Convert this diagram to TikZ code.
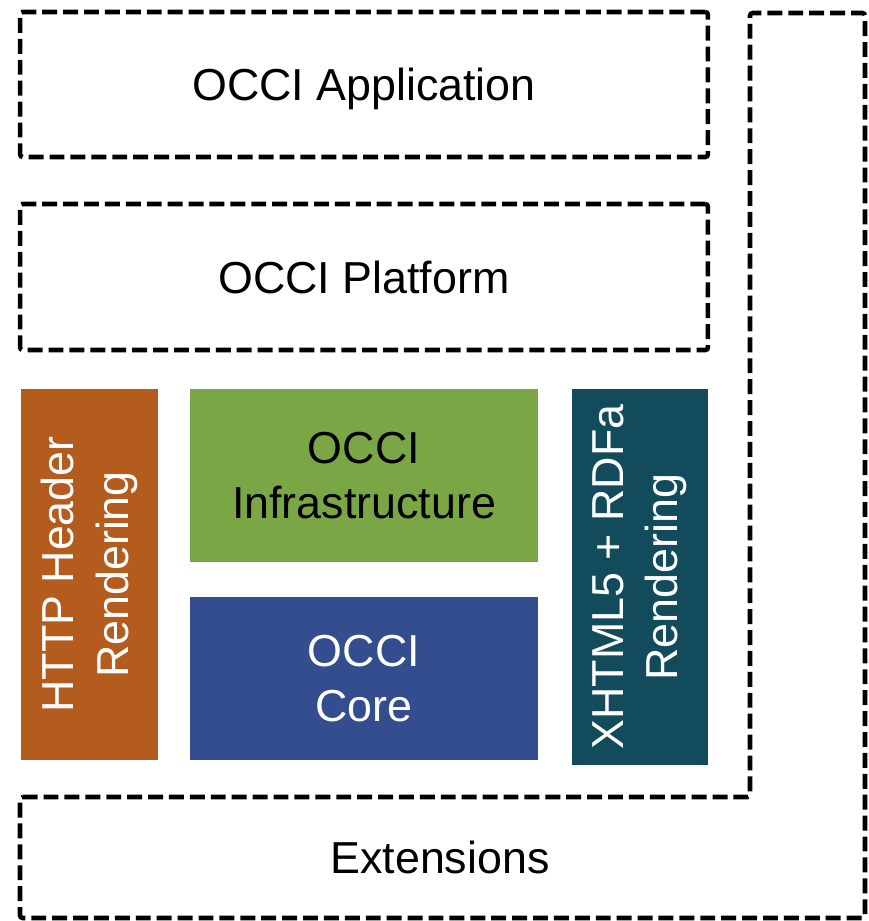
\documentclass[tikz,border=0pt]{standalone}
\usepackage{fontspec}
\setmainfont{Liberation Sans}
\usepackage{tikz}
\usetikzlibrary{positioning}
\definecolor{httporange}{HTML}{B35C1E}
\definecolor{infragreen}{HTML}{7BA645}
\definecolor{coreblue}{HTML}{334D8E}
\definecolor{xhtmlteal}{HTML}{124B5C}
\tikzset{layer/.style = {draw, line width=2.6pt, dash pattern=on 8.5pt off 3.4pt, rounded corners=1.5pt, inner sep=0pt, text depth=0pt, minimum width=13.76cm, font=\fontsize{25.5}{31}\selectfont},
         block/.style = {inner sep=0pt, align=center, font=\fontsize{25.5}{31}\selectfont}}

\begin{document}
\begin{tikzpicture}[x=0.02cm, y=-0.02cm]
                \useasboundingbox (0,0) rectangle (869,921);
                % upper layers
                \node[layer, minimum height=2.9cm]  (app)  at (364, 84.5) {OCCI Application};
                \node[layer, minimum height=2.92cm] (plat) at (364, 277)  {OCCI Platform};
                % renderings and core
                \node[block, fill=httporange, text=white, rotate=90, minimum width=7.42cm, minimum height=2.74cm] (http) at (89.5, 574.5) {HTTP Header\\Rendering};
                \node[block, fill=infragreen, minimum width=6.96cm, minimum height=3.46cm] (infra) at (364, 475.5) {OCCI\\Infrastructure};
                \node[block, fill=coreblue, text=white, minimum width=6.96cm, minimum height=3.26cm] (core) at (364, 678.5) {OCCI\\Core};
                \node[block, fill=xhtmlteal, text=white, rotate=90, minimum width=7.52cm, minimum height=2.72cm] (xhtml) at (640, 577) {XHTML5 + RDFa\\Rendering};
                % extensions
                \draw[line width=2.6pt, dash pattern=on 8.5pt off 3.4pt, rounded corners=1.5pt]
                    (20,797) -- (750,797) -- (750,13) -- (865,13) -- (865,918) -- (20,918) -- cycle;
                \node[block] (ext) at (440, 857) {Extensions};
            \end{tikzpicture}
\end{document}
